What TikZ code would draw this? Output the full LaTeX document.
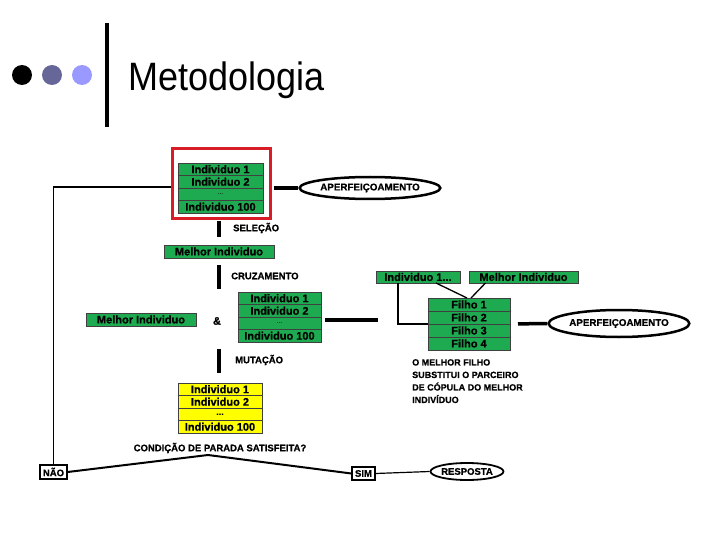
\documentclass[tikz,border=0pt]{standalone}
\usepackage{fontspec}
\setmainfont{Liberation Sans}[BoldFeatures={FakeBold=0.8}]
\usetikzlibrary{positioning,shapes.geometric}

\definecolor{verde}{RGB}{30,170,80}
\definecolor{amarelo}{RGB}{255,255,0}
\definecolor{vermelho}{RGB}{215,30,40}
\definecolor{bolaB}{RGB}{102,102,153}
\definecolor{bolaC}{RGB}{153,153,255}

\tikzset{
  linha/.style={draw=black!75,line width=0.7pt,fill=verde,inner sep=0pt,outer sep=0pt,
    font=\fontsize{11}{12}\selectfont\bfseries},
  linhaAm/.style={linha,fill=amarelo},
  rotulo/.style={font=\fontsize{9.5}{11}\selectfont\bfseries,inner sep=0pt},
  elipse/.style={ellipse,draw,line width=2.5pt,inner sep=0pt,
    font=\fontsize{9.8}{11}\selectfont\bfseries},
  caixaPB/.style={draw,line width=1.3pt,inner sep=0pt,font=\fontsize{9.5}{11}\selectfont\bfseries},
  traco/.style={line width=3.5pt},
}

\begin{document}
\begin{tikzpicture}[x=1pt,y=-1pt]
  \useasboundingbox (0,0) rectangle (720,540);

  % title bar
  \fill[black] (22,75) circle (10);
  \fill[bolaB] (52,75) circle (10);
  \fill[bolaC] (82,75) circle (10);
  \draw[line width=4pt] (107,23) -- (107,127);
  \node[anchor=base west,inner sep=0pt,font=\fontsize{36}{40}\selectfont] (titulo) at (128,91)
    {\scalebox{1}[1.1]{Metodologia}};

  % === populacao inicial (top) ===
  \node[linha,minimum width=85pt,minimum height=12.5pt] (a1) at (220.5,169.25) {Individuo 1};
  \node[linha,minimum width=85pt,minimum height=12.5pt,below=0pt of a1] (a2) {Individuo 2};
  \node[linha,minimum width=85pt,minimum height=12.5pt,below=0pt of a2,
        font=\fontsize{7}{8}\selectfont] (a3) {...};
  \node[linha,minimum width=85pt,minimum height=12.5pt,below=0pt of a3] (a4) {Individuo 100};
  \node[draw=vermelho,line width=3pt,minimum width=98pt,minimum height=70pt,inner sep=0pt]
    (sel) at (221,184) {};
  \node[elipse,minimum width=134pt,minimum height=22pt] (ap1) at (370,188) {APERFEIÇOAMENTO};
  \draw[traco,shorten <=2pt] (sel.east |- ap1) -- (ap1.west);

  % selecao
  \node[linha,minimum width=110pt,minimum height=13pt] (m1) at (219,251.5) {Melhor Individuo};
  \draw[traco,shorten <=1pt,shorten >=8pt] (sel.south -| m1) -- (m1.north);
  \node[rotulo,anchor=west] (lsel) at (233,228) {SELEÇÃO};

  % cruzamento
  \node[linha,minimum width=83pt,minimum height=12.5pt] (b1) at (279.5,298.25) {Individuo 1};
  \node[linha,minimum width=83pt,minimum height=12.5pt,below=0pt of b1] (b2) {Individuo 2};
  \node[linha,minimum width=83pt,minimum height=12.5pt,below=0pt of b2,
        font=\fontsize{7}{8}\selectfont] (b3) {...};
  \node[linha,minimum width=83pt,minimum height=12.5pt,below=0pt of b3] (b4) {Individuo 100};
  \draw[traco,shorten <=7pt,shorten >=3pt] (m1.south) -- (m1.south |- b1.north);
  \node[rotulo,anchor=west] (lcruz) at (231,276) {CRUZAMENTO};
  \node[linha,minimum width=110pt,minimum height=13pt] (m2) at (141,319.5) {Melhor Individuo};
  \node[font=\fontsize{11}{12}\selectfont\bfseries] (amp) at (217,321) {\&};
  \coordinate (fimcruz) at (378,320);
  \draw[traco,shorten <=4pt] (b2.south east |- fimcruz) -- (fimcruz);

  % pais e filhos
  \node[linha,minimum width=84pt,minimum height=12pt] (i1) at (418,277) {Individuo 1...};
  \node[linha,minimum width=109pt,minimum height=12pt] (mb) at (523.5,277) {Melhor Individuo};
  \node[linha,minimum width=82pt,minimum height=13pt] (f1) at (469,304.5) {Filho 1};
  \node[linha,minimum width=82pt,minimum height=13pt,below=0pt of f1] (f2) {Filho 2};
  \node[linha,minimum width=82pt,minimum height=13pt,below=0pt of f2] (f3) {Filho 3};
  \node[linha,minimum width=82pt,minimum height=13pt,below=0pt of f3] (f4) {Filho 4};
  \draw[line width=1.3pt] ([xshift=-20pt]i1.south) |- (f3.north west);
  \draw[line width=1.3pt] ([xshift=18pt]i1.south) -- ([xshift=-2pt]f1.north);
  \draw[line width=1.3pt] ([xshift=-38pt]mb.south) -- ([xshift=2pt]f1.north);
  \node[elipse,minimum width=132pt,minimum height=27pt] (ap2) at (619,323.5) {APERFEIÇOAMENTO};
  \draw[traco,shorten <=8pt] (f3.north east) -- (ap2.west);
  \node[rotulo,anchor=north west,align=left,font=\fontsize{9}{12.5}\selectfont\bfseries]
    (nota) at (412,359) {O MELHOR FILHO\\SUBSTITUI O PARCEIRO\\DE CÓPULA DO MELHOR\\INDIVÍDUO};

  % mutacao
  \node[linhaAm,minimum width=84pt,minimum height=12.5pt] (c1) at (220,389.25) {Individuo 1};
  \node[linhaAm,minimum width=84pt,minimum height=12.5pt,below=0pt of c1] (c2) {Individuo 2};
  \node[linhaAm,minimum width=84pt,minimum height=12.5pt,below=0pt of c2,
        font=\fontsize{9}{10}\selectfont\bfseries] (c3) {...};
  \node[linhaAm,minimum width=84pt,minimum height=12.5pt,below=0pt of c3] (c4) {Individuo 100};
  \draw[traco,shorten <=7pt,shorten >=10pt] (b4.south -| m1) -- (c1.north -| m1);
  \node[rotulo,anchor=west] (lmut) at (235,360) {MUTAÇÃO};

  % condicao de parada
  \node[rotulo] (cond) at (220,448) {CONDIÇÃO DE PARADA SATISFEITA?};
  \node[caixaPB,minimum width=27pt,minimum height=14pt] (nao) at (53.5,472) {NÃO};
  \node[caixaPB,minimum width=23pt,minimum height=13pt] (sim) at (363.5,473.5) {SIM};
  \node[elipse,line width=1.8pt,minimum width=68pt,minimum height=17pt,
        font=\fontsize{9.5}{11}\selectfont\bfseries] (resp) at (467,471.5) {RESPOSTA};
  \coordinate (topo) at (208,455);
  \draw[line width=2pt] (nao.east) -- (topo) -- (sim.west);
  \draw[line width=1.2pt] (sim.east) -- (resp.west);
  \draw[line width=1.8pt] (sel.west |- 0,187) -| (nao.north);
\end{tikzpicture}
\end{document}
